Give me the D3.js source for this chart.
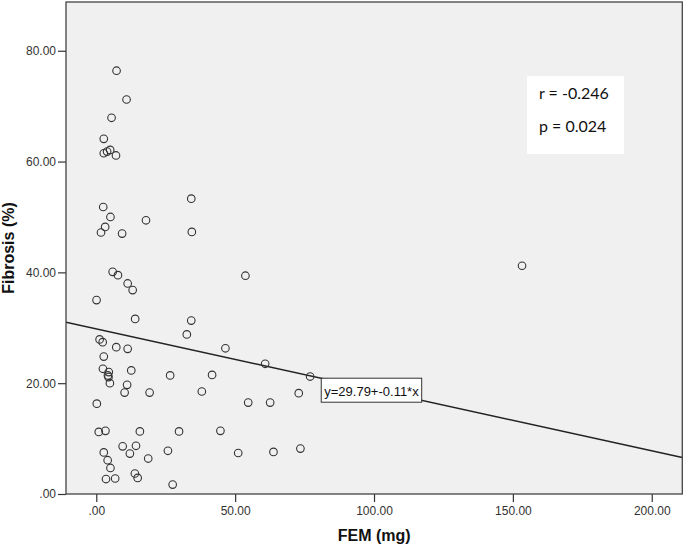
<!DOCTYPE html>
<html>
<head>
<meta charset="utf-8">
<script src="https://cdn.jsdelivr.net/npm/d3@7"></script>
<style>
  html, body { margin: 0; padding: 0; background: #ffffff; }
  svg { display: block; }
</style>
</head>
<body>
<svg id="chart" width="685" height="547"></svg>
<script>
// ---- data ----
const femValues = [7.3, 10.9, 5.5, 2.7, 2.7, 3.9, 5.0, 7.1, 2.5, 5.1, 17.9, 34.2, 3.2, 1.7, 9.3, 34.4,
  5.9, 7.8, 11.3, 13.1, 0.1, 14.0, 34.2, 32.6, 1.2, 2.3, 7.2, 11.3, 2.7, 2.4, 4.5, 4.2, 4.4, 12.6,
  4.9, 26.6, 11.1, 10.2, 19.2, 38.0, 0.2, 0.9, 3.3, 15.7, 29.8, 9.5, 14.3, 12.1, 25.8, 2.7, 4.1,
  18.7, 5.1, 3.5, 6.8, 13.9, 14.9, 27.5, 53.7, 46.5, 60.8, 77.0, 41.7, 72.9, 54.7, 62.6, 44.7,
  51.1, 63.8, 73.5, 153.3];
const fibrosisValues = [76.4, 71.2, 67.9, 64.1, 61.5, 61.8, 62.1, 61.1, 51.8, 50.0, 49.4, 53.3, 48.2, 47.2, 47.0, 47.3,
  40.1, 39.5, 38.0, 36.8, 35.0, 31.6, 31.3, 28.8, 27.9, 27.4, 26.5, 26.2, 24.8, 22.6, 22.0, 21.4, 21.1, 22.3,
  20.0, 21.4, 19.7, 18.3, 18.3, 18.5, 16.3, 11.2, 11.4, 11.3, 11.3, 8.6, 8.7, 7.3, 7.8, 7.5, 6.1,
  6.4, 4.7, 2.7, 2.8, 3.7, 2.9, 1.7, 39.4, 26.3, 23.5, 21.2, 21.5, 18.2, 16.5, 16.5, 11.4,
  7.4, 7.6, 8.2, 41.2];
const xTicks = [0, 50, 100, 150, 200];
const yTicks = [0, 20, 40, 60, 80];
const xDomain = [-10.9, 211];
const yDomain = [0, 88.8];
const fitIntercept = 29.79;
const fitSlope = -0.11;
const fitLabel = "y=29.79+-0.11*x";
const statsLines = ["r = -0.246", "p = 0.024"];
const xTitle = "FEM (mg)";
const yTitle = "Fibrosis (%)";

// ---- layout ----
const svg = d3.select("#chart");
const plot = { left: 66, right: 682.3, top: 2, bottom: 494 };

const x = d3.scaleLinear().domain(xDomain).range([plot.left, plot.right]);
const y = d3.scaleLinear().domain(yDomain).range([plot.bottom, plot.top]);

const fmt = v => v === 0 ? ".00" : d3.format(".2f")(v);

// plot background
svg.append("rect")
  .attr("x", plot.left).attr("y", plot.top)
  .attr("width", plot.right - plot.left).attr("height", plot.bottom - plot.top)
  .attr("fill", "#f0f0f0");

// axes
const xAxis = svg.append("g")
  .attr("transform", `translate(0,${plot.bottom})`)
  .call(d3.axisBottom(x).tickValues(xTicks).tickFormat(fmt).tickSize(8).tickPadding(4));
const yAxis = svg.append("g")
  .attr("transform", `translate(${plot.left},0)`)
  .call(d3.axisLeft(y).tickValues(yTicks).tickFormat(fmt).tickSize(8).tickPadding(2));

[xAxis, yAxis].forEach(g => {
  g.select(".domain").remove();
  g.selectAll(".tick line").attr("stroke", "#333").attr("stroke-width", 1.2);
  g.selectAll(".tick text")
    .attr("fill", "#333")
    .style("font-family", "'Liberation Sans', Arial, sans-serif")
    .style("font-size", "12px");
});

// clip
svg.append("clipPath").attr("id", "clip")
  .append("rect")
  .attr("x", plot.left).attr("y", plot.top)
  .attr("width", plot.right - plot.left).attr("height", plot.bottom - plot.top);

// regression line
const fitLine = d3.line().x(d => x(d)).y(d => y(fitIntercept + fitSlope * d));
svg.append("path")
  .attr("clip-path", "url(#clip)")
  .attr("d", fitLine(xDomain))
  .attr("fill", "none")
  .attr("stroke", "#222")
  .attr("stroke-width", 1.4);

// points
const pts = femValues.map((v, i) => ({ fem: v, fib: fibrosisValues[i] }));
svg.append("g").selectAll("circle")
  .data(pts).join("circle")
  .attr("cx", d => x(d.fem))
  .attr("cy", d => y(d.fib))
  .attr("r", 3.8)
  .attr("fill", "none")
  .attr("stroke", "#333")
  .attr("stroke-width", 1.1);

// equation label box
const eqG = svg.append("g").attr("transform", `translate(${x(81)},${y(20.9)})`);
const eqText = eqG.append("text")
  .attr("x", 3).attr("y", 18)
  .style("font-family", "'Liberation Sans', Arial, sans-serif")
  .style("font-size", "13px")
  .attr("fill", "#111")
  .text(fitLabel);
const eqW = eqText.node().getComputedTextLength() + 6;
eqG.insert("rect", "text")
  .attr("x", 0).attr("y", 0)
  .attr("width", eqW).attr("height", 24)
  .attr("fill", "#ffffff")
  .attr("stroke", "#333")
  .attr("stroke-width", 1);

// stats box
const stG = svg.append("g").attr("transform", "translate(527,76)");
stG.append("rect").attr("width", 97).attr("height", 78).attr("fill", "#ffffff");
stG.selectAll("text").data(statsLines).join("text")
  .attr("x", 12)
  .attr("y", (d, i) => 22.5 + i * 33.5)
  .style("font-family", "Lato, 'Open Sans', sans-serif")
  .style("font-size", "16px")
  .attr("fill", "#111")
  .text(d => d);

// frame
svg.append("rect")
  .attr("x", plot.left).attr("y", plot.top)
  .attr("width", plot.right - plot.left).attr("height", plot.bottom - plot.top)
  .attr("fill", "none")
  .attr("stroke", "#444")
  .attr("stroke-width", 1.3);

// axis titles
svg.append("text")
  .attr("x", (plot.left + plot.right) / 2)
  .attr("y", 541)
  .attr("text-anchor", "middle")
  .style("font-family", "'Liberation Sans', Arial, sans-serif")
  .style("font-size", "16px")
  .style("font-weight", "bold")
  .attr("fill", "#111")
  .text(xTitle);

svg.append("text")
  .attr("transform", `translate(14,${(plot.top + plot.bottom) / 2}) rotate(-90)`)
  .attr("text-anchor", "middle")
  .style("font-family", "'Liberation Sans', Arial, sans-serif")
  .style("font-size", "16px")
  .style("font-weight", "bold")
  .attr("fill", "#111")
  .text(yTitle);
</script>
</body>
</html>
